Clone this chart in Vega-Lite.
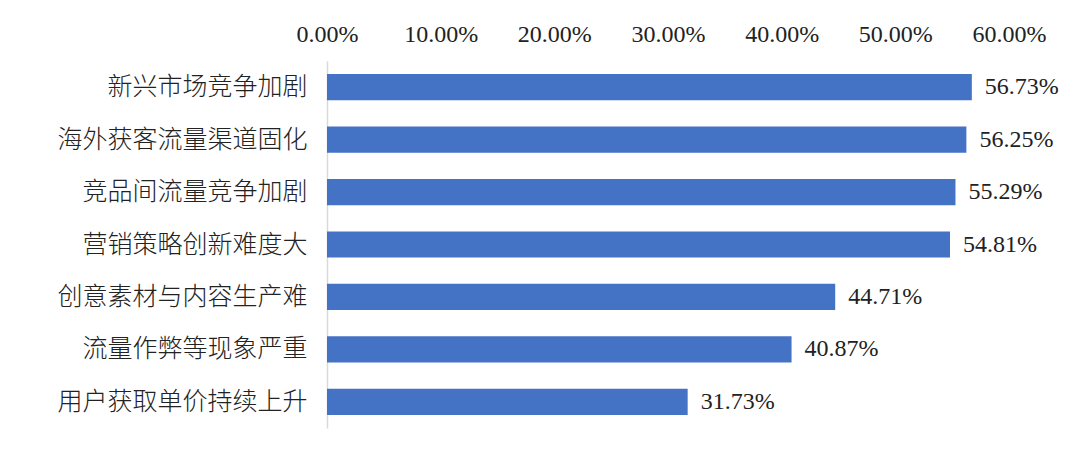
{
  "$schema": "https://vega.github.io/schema/vega-lite/v6.json",
  "width": 682,
  "height": 367,
  "autosize": {"type": "none"},
  "padding": {"left": 327, "top": 61, "right": 71, "bottom": 30},
  "background": "white",
  "config": {"view": {"stroke": null}},
  "data": {
    "values": [
      {"reason": "新兴市场竞争加剧", "share": 0.5673},
      {"reason": "海外获客流量渠道固化", "share": 0.5625},
      {"reason": "竞品间流量竞争加剧", "share": 0.5529},
      {"reason": "营销策略创新难度大", "share": 0.5481},
      {"reason": "创意素材与内容生产难", "share": 0.4471},
      {"reason": "流量作弊等现象严重", "share": 0.4087},
      {"reason": "用户获取单价持续上升", "share": 0.3173}
    ]
  },
  "encoding": {
    "y": {
      "field": "reason",
      "type": "nominal",
      "sort": null,
      "scale": {"paddingInner": 0.5, "paddingOuter": 0.25},
      "axis": {
        "title": null,
        "ticks": false,
        "domain": true,
        "domainColor": "#d9d9d9",
        "domainWidth": 1.5,
        "labelFont": "Noto Sans CJK SC",
        "labelFontSize": 25,
        "labelFontWeight": 300,
        "labelColor": "#222222",
        "labelPadding": 20,
        "labelLimit": 400
      }
    },
    "x": {
      "field": "share",
      "type": "quantitative",
      "scale": {"domain": [0, 0.6], "nice": false},
      "axis": {
        "orient": "top",
        "title": null,
        "format": ".2%",
        "values": [0, 0.1, 0.2, 0.3, 0.4, 0.5, 0.6],
        "grid": false,
        "ticks": false,
        "domain": false,
        "labelFont": "Liberation Serif",
        "labelFontSize": 24,
        "labelColor": "#222222",
        "labelPadding": 15,
        "labelFlush": false
      }
    }
  },
  "layer": [
    {"mark": {"type": "bar", "color": "#4472C4"}},
    {
      "mark": {
        "type": "text",
        "align": "left",
        "baseline": "middle",
        "dx": 13,
        "font": "Liberation Serif",
        "fontSize": 24,
        "color": "#222222"
      },
      "encoding": {"text": {"field": "share", "type": "quantitative", "format": ".2%"}}
    }
  ]
}
